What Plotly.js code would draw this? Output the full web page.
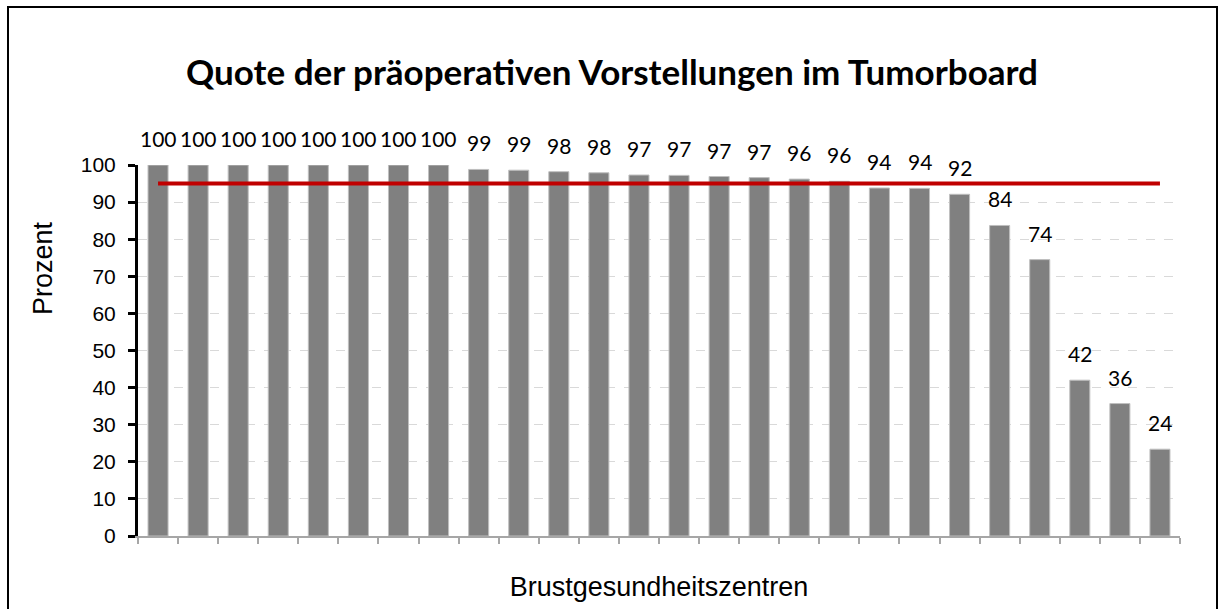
<!DOCTYPE html>
<html>
<head>
<meta charset="utf-8">
<script src="https://cdn.plot.ly/plotly-3.0.1.min.js"></script>
<style>
  html, body { margin: 0; padding: 0; background: #fff; }
  #chart { width: 1224px; height: 609px; }
</style>
</head>
<body>
<div id="chart"></div>
<script>
// Brustgesundheitszentren (anonymous, not labelled in the chart)
const centers = ["Z01","Z02","Z03","Z04","Z05","Z06","Z07","Z08","Z09","Z10","Z11","Z12","Z13",
                 "Z14","Z15","Z16","Z17","Z18","Z19","Z20","Z21","Z22","Z23","Z24","Z25","Z26"];
// Quote (Prozent)
const quote = [100, 100, 100, 100, 100, 100, 100, 100, 98.8, 98.6, 98.2, 97.9, 97.3,
               97.2, 96.9, 96.6, 96.2, 95.6, 93.8, 93.7, 92.1, 83.7, 74.5, 42.0, 35.7, 23.4];
// Rounded value labels printed above the bars
const labels = ["100","100","100","100","100","100","100","100","99","99","98","98","97",
                "97","97","97","96","96","94","94","92","84","74","42","36","24"];
// Target value (red reference line)
const target = 95;

const W = 1224, H = 609;
const L = 138, R = 44, T = 165, B = 73;
const pw = W - L - R, ph = H - T - B;
const px = v => (v - L) / pw;
const py = v => (H - B - v) / ph;

const bars = {
  type: 'bar',
  x: centers,
  y: quote,
  marker: { color: '#808080', line: { color: '#BFBFBF', width: 1 } },
  hoverinfo: 'x+y',
  showlegend: false
};

const targetLine = {
  type: 'scatter',
  mode: 'lines',
  x: [centers[0], centers[centers.length - 1]],
  y: [target, target],
  line: { color: '#C00000', width: 4 },
  hoverinfo: 'y',
  showlegend: false
};

const annotations = centers.map((c, i) => ({
  x: c, y: quote[i], xref: 'x', yref: 'y',
  text: labels[i], showarrow: false,
  yanchor: 'bottom', xanchor: 'center', yshift: 12,
  font: { family: 'Lato, "Open Sans", sans-serif', size: 21, color: '#000' }
}));

annotations.push({
  xref: 'paper', yref: 'paper',
  x: px(43), y: py(268),
  xanchor: 'center', yanchor: 'middle',
  text: 'Prozent', textangle: -90, showarrow: false,
  font: { family: '"Liberation Sans", Arial, sans-serif', size: 27, color: '#000' }
});

const layout = {
  width: W, height: H,
  margin: { l: L, r: R, t: T, b: B, pad: 0 },
  paper_bgcolor: '#fff',
  plot_bgcolor: '#fff',
  bargap: 0.5,
  title: {
    text: '<b>Quote der präoperativen Vorstellungen im Tumorboard</b>',
    font: { family: 'Lato, "Open Sans", sans-serif', size: 35, color: '#000' },
    x: 612 / W, xref: 'container', xanchor: 'center',
    y: 1 - 73 / H, yref: 'container', yanchor: 'middle'
  },
  xaxis: {
    type: 'category',
    range: [-0.5, centers.length - 0.5],
    showticklabels: false,
    ticks: 'outside', tickson: 'boundaries', ticklen: 6, tickwidth: 2, tickcolor: '#A6A6A6',
    showline: true, linecolor: '#A6A6A6', linewidth: 2,
    showgrid: false, zeroline: false, fixedrange: true,
    title: {
      text: 'Brustgesundheitszentren',
      font: { family: '"Liberation Sans", Arial, sans-serif', size: 27, color: '#000' },
      standoff: 40
    }
  },
  yaxis: {
    range: [0, 100],
    tickmode: 'linear', tick0: 0, dtick: 10,
    ticks: 'outside', ticklen: 7, tickwidth: 3, tickcolor: '#000',
    ticklabelstandoff: 8,
    tickfont: { family: '"Liberation Sans", Arial, sans-serif', size: 21, color: '#000' },
    showline: true, linecolor: '#000', linewidth: 3,
    showgrid: true, gridcolor: '#D9D9D9', griddash: 'dash', gridwidth: 1,
    zeroline: false, fixedrange: true
  },
  shapes: [{
    type: 'rect', xref: 'paper', yref: 'paper',
    x0: px(8), x1: px(1217), y0: py(615), y1: py(7),
    line: { color: '#000', width: 2 }, fillcolor: 'rgba(0,0,0,0)', layer: 'above'
  }],
  annotations: annotations
};

Plotly.newPlot('chart', [bars, targetLine], layout, { displayModeBar: false, staticPlot: true });
</script>
</body>
</html>
